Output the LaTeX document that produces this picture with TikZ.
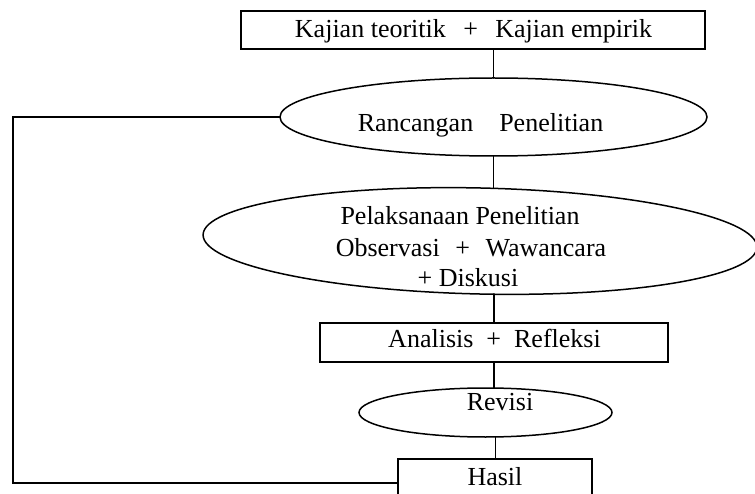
\documentclass[tikz,border=0pt]{standalone}
\usepackage{fontspec}
\setmainfont{Liberation Serif}
\usetikzlibrary{shapes.geometric}
\tikzset{
  shapebase/.style={draw=black, line width=1.5pt, inner sep=0pt, outer sep=0pt},
  rbox/.style={shapebase, rectangle},
  oval/.style={shapebase, ellipse},
  lbl/.style={anchor=base, inner sep=0pt, font=\fontsize{26}{31}\selectfont},
  conn/.style={line width=1.6pt, line cap=round},
  faint/.style={line width=0.7pt},
}
\begin{document}
\begin{tikzpicture}[x=1pt,y=-1pt]
\useasboundingbox (0,0) rectangle (755,494);
\clip (0,0) rectangle (755,494);
\fill[white] (0,0) rectangle (755,494);
% shapes
\node[rbox, minimum width=464pt, minimum height=38pt] (kajian) at (473,30) {};
\node[oval, minimum width=427pt, minimum height=78pt] (rancangan) at (493.5,117) {};
\node[oval, minimum width=554pt, minimum height=106pt, rotate=-1.3] (pelaksanaan) at (480,241) {};
\node[rbox, minimum width=348pt, minimum height=39pt] (analisis) at (494,342.5) {};
\node[oval, minimum width=253pt, minimum height=49pt] (revisi) at (485.5,412.5) {};
\node[rbox, minimum width=194pt, minimum height=48pt] (hasil) at (495,483) {};
% texts
\node[lbl] (t1) at (473.5,38) {Kajian teoritik\hspace{0.67em}+\hspace{0.67em}Kajian empirik};
\node[lbl] (t2) at (480.5,132) {Rancangan\hspace{1em}Penelitian};
\node[lbl] (t3a) at (460,225) {Pelaksanaan Penelitian};
\node[lbl] (t3b) at (471,257) {Observasi\hspace{0.6em}+\hspace{0.6em}Wawancara};
\node[lbl] (t3c) at (468,287) {+ Diskusi};
\node[lbl] (t4) at (494.5,348) {Analisis\hspace{0.5em}+\hspace{0.5em}Refleksi};
\node[lbl] (t5) at (500,410) {Revisi};
\node[lbl] (t6) at (495,485) {Hasil};
% connectors
\draw[conn] (rancangan.north |- kajian.south) -- (rancangan.north);
\draw[conn] (rancangan.south) -- (rancangan.south |- pelaksanaan.north);
\draw[conn] (analisis.north) -- (analisis.north |- pelaksanaan.south);
\draw[conn] (analisis.south) -- (analisis.south |- revisi.north);
\draw[faint] (hasil.north |- revisi.south) -- (hasil.north);
\coordinate (fb) at (13,0);
\draw[conn] (rancangan.west) -- (fb |- rancangan.west) -- (fb |- hasil.west) -- (hasil.west);
\end{tikzpicture}
\end{document}
